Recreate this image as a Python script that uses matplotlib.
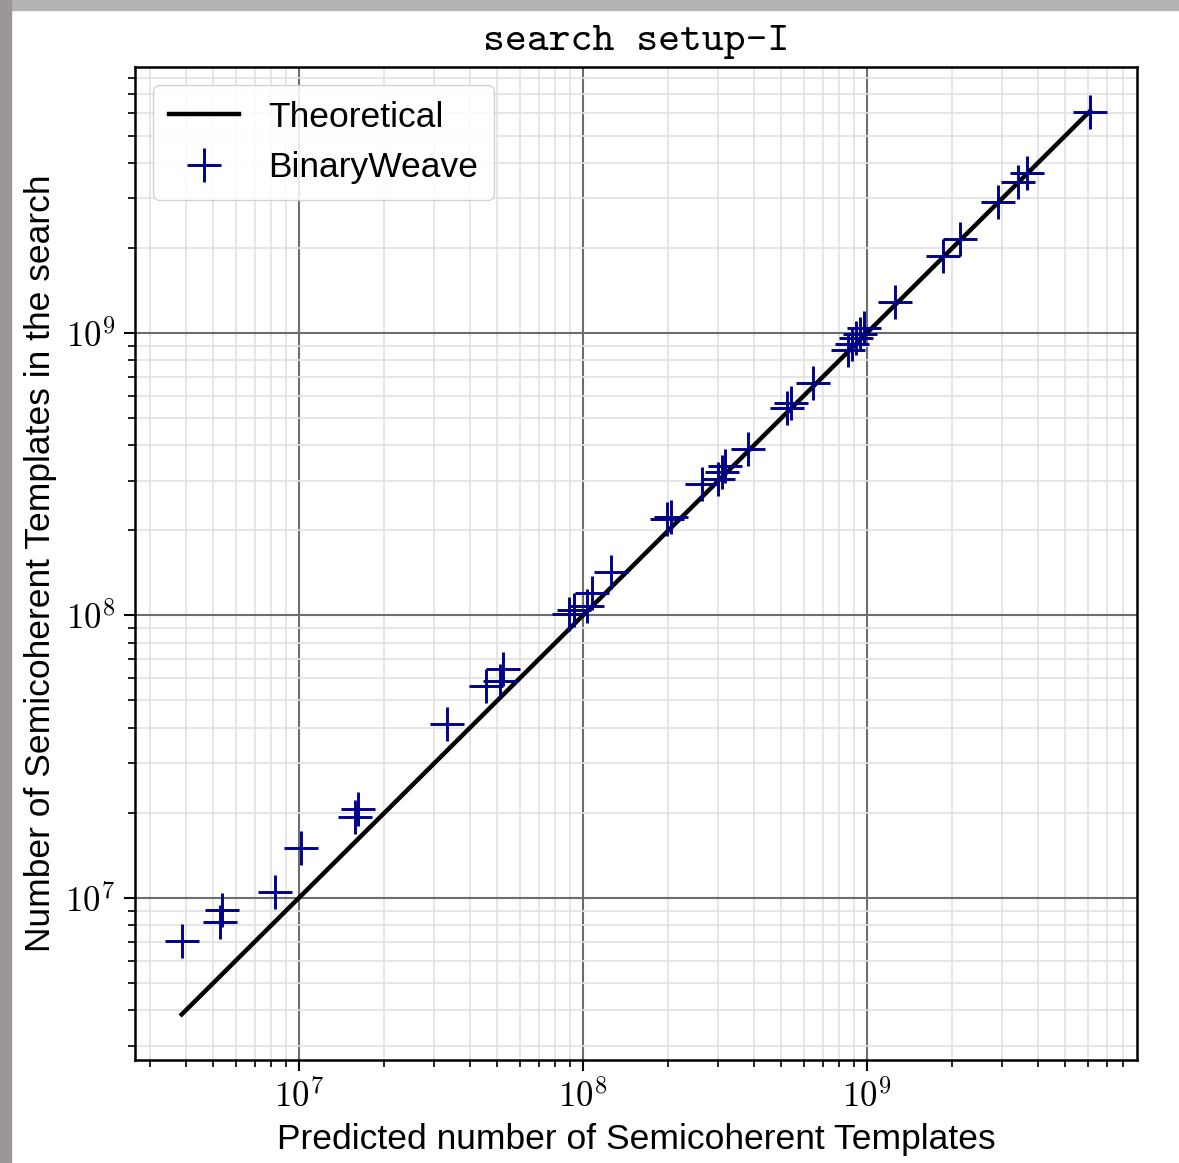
import numpy as np
import matplotlib
matplotlib.use("Agg")
import matplotlib.pyplot as plt
from matplotlib.patches import Rectangle
from matplotlib.ticker import FuncFormatter

plt.rcParams['mathtext.fontset'] = 'cm'
plt.rcParams['font.family'] = ['Liberation Sans', 'DejaVu Sans']

# predicted vs. actual template counts
predicted = [3.87e6, 5.27e6, 5.36e6, 8.23e6, 1.02e7, 1.58e7, 1.61e7, 3.32e7,
             4.55e7, 5.10e7, 5.23e7, 8.93e7, 9.29e7, 1.03e8, 1.08e8, 1.26e8,
             1.98e8, 2.04e8, 2.62e8, 2.99e8, 3.08e8, 3.16e8, 3.81e8, 5.22e8,
             5.40e8, 6.46e8, 8.57e8, 8.85e8, 9.14e8, 9.44e8, 9.75e8, 1.26e9,
             1.85e9, 2.12e9, 2.89e9, 3.40e9, 3.66e9, 6.10e9]
found = [7.05e6, 8.22e6, 9.07e6, 1.05e7, 1.50e7, 1.94e7, 2.07e7, 4.13e7,
         5.63e7, 5.86e7, 6.47e7, 1.01e8, 1.045e8, 1.08e8, 1.20e8, 1.43e8,
         2.20e8, 2.23e8, 2.92e8, 3.04e8, 3.22e8, 3.38e8, 3.88e8, 5.43e8,
         5.65e8, 6.65e8, 8.71e8, 9.14e8, 9.60e8, 9.91e8, 1.04e9, 1.29e9,
         1.87e9, 2.15e9, 2.91e9, 3.43e9, 3.68e9, 6.05e9]

fig = plt.figure(figsize=(11.79, 11.63), dpi=100)
# grey edge along the top and left
fig.patches.append(Rectangle((0, 1 - 10 / 1163), 1, 10 / 1163, transform=fig.transFigure,
                             color='#b4b4b4', zorder=-10))
fig.patches.append(Rectangle((0, 0), 11 / 1179, 1, transform=fig.transFigure,
                             color='#9c9696', zorder=-10))

ax = fig.add_axes([0.1145, 0.0886, 0.8499, 0.8538])

pred_sorted = np.sort(predicted)
ax.plot(pred_sorted, pred_sorted, color='black', lw=3.2, label='Theoretical')
ax.plot(predicted, found, linestyle='none', marker='+', ms=25, mew=2.1,
        color='darkblue', label='BinaryWeave')

ax.set_xscale('log')
ax.set_yscale('log')
ax.set_xlim(2.65e6, 8.93e9)
ax.set_ylim(2.67e6, 8.74e9)

pow_fmt = FuncFormatter(lambda v, pos: r'$10^{%d}$' % round(np.log10(v)))
ax.xaxis.set_major_formatter(pow_fmt)
ax.yaxis.set_major_formatter(pow_fmt)

ax.grid(which='major', color='#6e6e6e', lw=1.5)
ax.grid(which='minor', color='#e2e2e2', lw=1.2)
ax.set_axisbelow(True)
ax.tick_params(which='major', length=8, width=1.5, labelsize=25, pad=6)
ax.tick_params(which='minor', length=5, width=1.2)
for s in ax.spines.values():
    s.set_linewidth(1.8)

ax.set_xlabel('Predicted number of Semicoherent Templates', fontsize=25.5, labelpad=6)
ax.set_ylabel('Number of Semicoherent Templates in the search', fontsize=25.5, labelpad=6)
ax.set_title('search setup-I', fontsize=30, family='cmtt10', pad=12)

ax.legend(loc='upper left', fontsize=25.5, handlelength=2.0, framealpha=0.85,
          borderpad=0.45, labelspacing=0.5, edgecolor='#cccccc', fancybox=True)

fig.savefig('out.png', dpi=100)
